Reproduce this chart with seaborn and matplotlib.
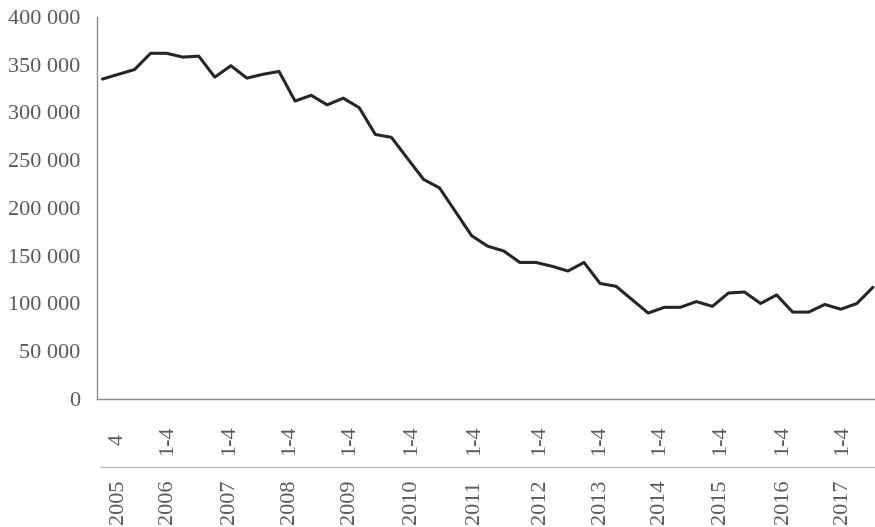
import matplotlib
matplotlib.use("Agg")
import matplotlib.pyplot as plt
import seaborn as sns
import pandas as pd
from matplotlib.ticker import FuncFormatter
from matplotlib.lines import Line2D

# quarterly values, 2005 Q4 .. 2017 Q4
values = [335000, 340000, 345000, 362000, 362000, 358000, 359000, 337000,
          349000, 336000, 340000, 343000, 312000, 318000, 308000, 315000,
          305000, 277000, 274000, 252000, 230000, 221000, 196000, 171000,
          160000, 155000, 143000, 143000, 139000, 134000, 143000, 121000,
          118000, 104000, 90000, 96000, 96000, 102000, 97000, 111000,
          112000, 100000, 109000, 91000, 91000, 99000, 94000, 100000,
          117000]
year_labels = [str(y) for y in range(2005, 2018)]
quarter_labels = ["4"] + ["1-4"] * 12

df = pd.DataFrame({"pos": range(len(values)), "value": values})

sns.set_style("white")
plt.rcParams["font.family"] = ["Liberation Serif", "DejaVu Serif"]

fig = plt.figure(figsize=(8.75, 5.27), dpi=100)
ax = fig.add_axes([97 / 875, 128 / 527, 778 / 875, 382 / 527])
sns.lineplot(data=df, x="pos", y="value", color="#262626", linewidth=2.2, ax=ax)

ax.set_xlim(-0.34, 48.13)
ax.set_ylim(0, 400000)
ax.set_yticks(range(0, 400001, 50000))
ax.yaxis.set_major_formatter(FuncFormatter(lambda v, p: f"{int(v):,}".replace(",", " ")))
ax.tick_params(axis="y", length=0, pad=12, labelsize=16, labelcolor="#595959")
ax.set_xticks([])
ax.set_xlabel("")
ax.set_ylabel("")
for side in ["top", "right"]:
    ax.spines[side].set_visible(False)
for side in ["left", "bottom"]:
    ax.spines[side].set_color("#8c8c8c")
    ax.spines[side].set_linewidth(1)

# two-level category labels (quarters above, years below)
label_x = [0.97, 4.08, 7.94, 11.68, 15.42, 19.28, 23.2, 27.26, 31.0, 34.7, 38.5, 42.4, 46.1]
trans = ax.get_xaxis_transform()
for x, q, yr in zip(label_x, quarter_labels, year_labels):
    ax.text(x, -0.107, q, transform=trans, rotation=90, ha="center", va="center",
            fontsize=16, color="#595959")
    ax.text(x, -0.328, yr, transform=trans, rotation=90, ha="center", va="bottom",
            fontsize=16, color="#595959")

fig.add_artist(Line2D([100 / 875, 1], [60 / 527, 60 / 527], color="#bfbfbf", lw=1))

fig.savefig("out.png", dpi=100)
